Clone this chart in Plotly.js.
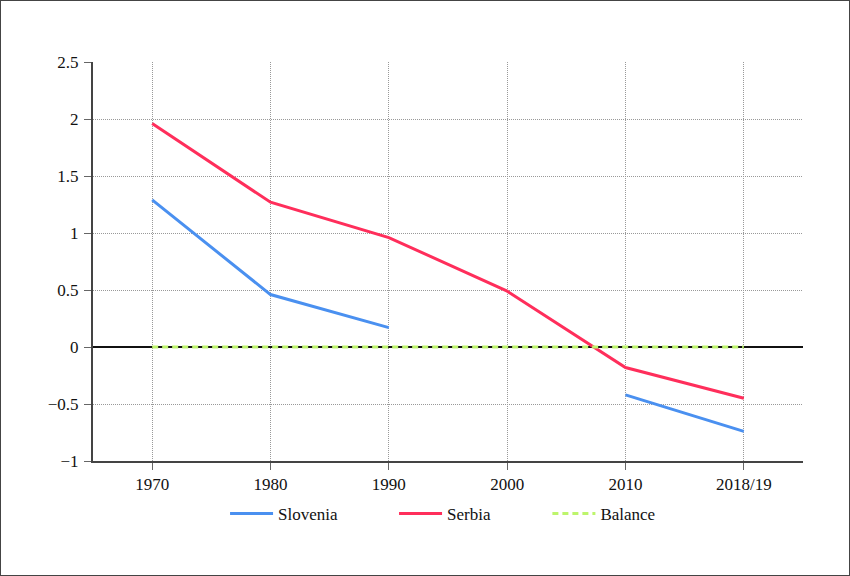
<!DOCTYPE html>
<html>
<head>
<meta charset="utf-8">
<script src="https://cdn.plot.ly/plotly-3.0.1.min.js"></script>
<style>
  html, body { margin: 0; padding: 0; background: #fff; }
  #chart { width: 850px; height: 576px; box-sizing: border-box; border: 1px solid #444; }
</style>
</head>
<body>
<div id="chart"></div>
<script>
const years = ['1970', '1980', '1990', '2000', '2010', '2018/19'];
const slovenia = [1.29, 0.46, 0.17, null, -0.42, -0.74];
const serbia = [1.96, 1.27, 0.96, 0.49, -0.18, -0.45];
const balance = [0, 0, 0, 0, 0, 0];

const font = { family: 'Liberation Serif, DejaVu Serif, serif', size: 17, color: '#111' };

const data = [
  {
    x: years, y: slovenia, name: 'Slovenia', type: 'scatter', mode: 'lines',
    connectgaps: false, legend: 'legend',
    line: { color: '#4a90f0', width: 3 },
  },
  {
    x: years, y: serbia, name: 'Serbia', type: 'scatter', mode: 'lines',
    legend: 'legend2',
    line: { color: '#ff2e5b', width: 3 },
  },
  {
    x: years, y: balance, name: 'Balance', type: 'scatter', mode: 'lines',
    legend: 'legend3',
    line: { color: '#bdf56c', width: 3, dash: '6px,4px' },
  },
];

// one legend per entry so the spacing can follow the reference
function legendAt(x) {
  return {
    orientation: 'h',
    x: x, xanchor: 'left',
    y: -0.133, yanchor: 'middle',
    font: font,
    itemwidth: 43,
    bgcolor: 'rgba(0,0,0,0)',
  };
}

const gridStyle = {
  showgrid: true,
  gridcolor: '#999',
  griddash: '1px,1px',
  gridwidth: 1,
  showline: true,
  linecolor: '#444',
  linewidth: 2,
  ticks: 'outside',
  ticklen: 7,
  tickcolor: '#666',
  tickwidth: 1,
  tickfont: font,
};

const layout = {
  width: 848,
  height: 574,
  margin: { l: 92, r: 46, t: 61, b: 114 },
  paper_bgcolor: '#fff',
  plot_bgcolor: '#fff',
  font: font,
  showlegend: true,
  legend: legendAt(0.186),
  legend2: legendAt(0.424),
  legend3: legendAt(0.640),
  xaxis: Object.assign({}, gridStyle, {
    type: 'category',
    range: [-0.5, 5.5],
    zeroline: false,
  }),
  yaxis: Object.assign({}, gridStyle, {
    range: [-1, 2.5],
    dtick: 0.5,
    tick0: 0,
    ticklabelstandoff: 2,
    zeroline: true,
    zerolinecolor: '#111',
    zerolinewidth: 1.5,
  }),
};

Plotly.newPlot('chart', data, layout, { displayModeBar: false, staticPlot: true });
</script>
</body>
</html>
